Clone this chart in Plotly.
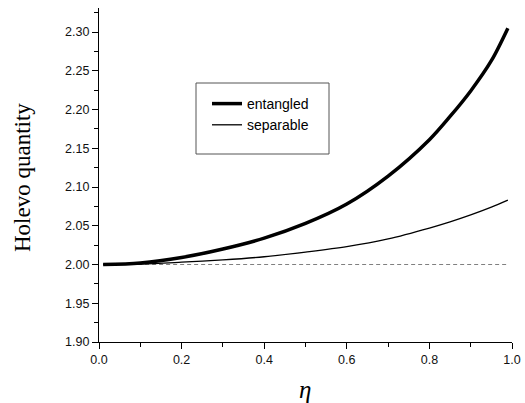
import plotly.graph_objects as go

# 数据：η 与 Holevo quantity
eta = [0.01, 0.1, 0.2, 0.3, 0.4, 0.5, 0.6, 0.7, 0.8, 0.85, 0.9, 0.95, 0.99]
entangled = [2.000, 2.002, 2.009, 2.020, 2.034, 2.053, 2.078, 2.114, 2.161, 2.191, 2.224, 2.263, 2.305]
separable = [2.000, 2.0005, 2.003, 2.006, 2.010, 2.016, 2.023, 2.033, 2.047, 2.055, 2.064, 2.074, 2.083]
baseline_x = [0.01, 0.99]
baseline_y = [2.0, 2.0]

fig = go.Figure()

# 参考虚线 y = 2
fig.add_trace(go.Scatter(
    x=baseline_x, y=baseline_y, mode='lines',
    line=dict(color='#808080', width=1.2, dash='4px,3px'),
    showlegend=False
))

fig.add_trace(go.Scatter(
    x=eta, y=entangled, mode='lines', name='entangled',
    line=dict(color='black', width=3.5, shape='spline', smoothing=0.9)
))

fig.add_trace(go.Scatter(
    x=eta, y=separable, mode='lines', name='separable',
    line=dict(color='black', width=1.3, shape='spline', smoothing=0.9)
))

axis_common = dict(
    showline=True, linecolor='black', linewidth=1.3,
    ticks='outside', ticklen=6, tickwidth=1.3, tickcolor='black',
    showgrid=False, zeroline=False, automargin=False,
    tickfont=dict(family='Liberation Sans, Arial', size=12.5, color='#111111'),
)

fig.update_layout(
    width=525, height=403,
    margin=dict(l=99, r=13, t=8, b=61),
    plot_bgcolor='white', paper_bgcolor='white',
    xaxis=dict(
        range=[0, 1.0], dtick=0.2, tickformat='.1f',
        minor=dict(dtick=0.1, ticks='outside', ticklen=4, tickwidth=1.3, tickcolor='black'),
        **axis_common
    ),
    yaxis=dict(
        range=[1.90, 2.331], tick0=1.90, dtick=0.05, tickformat='.2f',
        minor=dict(dtick=0.025, ticks='outside', ticklen=4, tickwidth=1.3, tickcolor='black'),
        **axis_common
    ),
    legend=dict(
        x=(207 - 99) / 413, y=(342 - 88) / 334, xanchor='left', yanchor='top',
        bgcolor='rgba(0,0,0,0)', borderwidth=0,
        font=dict(family='Liberation Sans, Arial', size=14, color='black'),
        tracegroupgap=0, itemwidth=30
    ),
    shapes=[dict(
        type='rect', xref='paper', yref='paper',
        x0=(196 - 99) / 413, x1=(329 - 99) / 413,
        y0=(342 - 154) / 334, y1=(342 - 83) / 334,
        line=dict(color='#555555', width=1)
    )],
    annotations=[
        dict(text='Holevo quantity', xref='paper', yref='paper',
             x=(22 - 99) / 413, y=(342 - 178) / 334, textangle=-90,
             xanchor='center', yanchor='middle', showarrow=False,
             font=dict(family='Liberation Serif, Times New Roman', size=23, color='black')),
        dict(text='<i>η</i>', xref='paper', yref='paper',
             x=(305 - 99) / 413, y=(342 - 389) / 334,
             xanchor='center', yanchor='middle', showarrow=False,
             font=dict(family='Liberation Serif, Times New Roman', size=25, color='black')),
    ]
)

# 去掉页面默认的 body 边距，使图表对齐窗口左上角
fig.write_html("out.html", config={'displayModeBar': False},
               post_script="document.body.style.margin='0';")
